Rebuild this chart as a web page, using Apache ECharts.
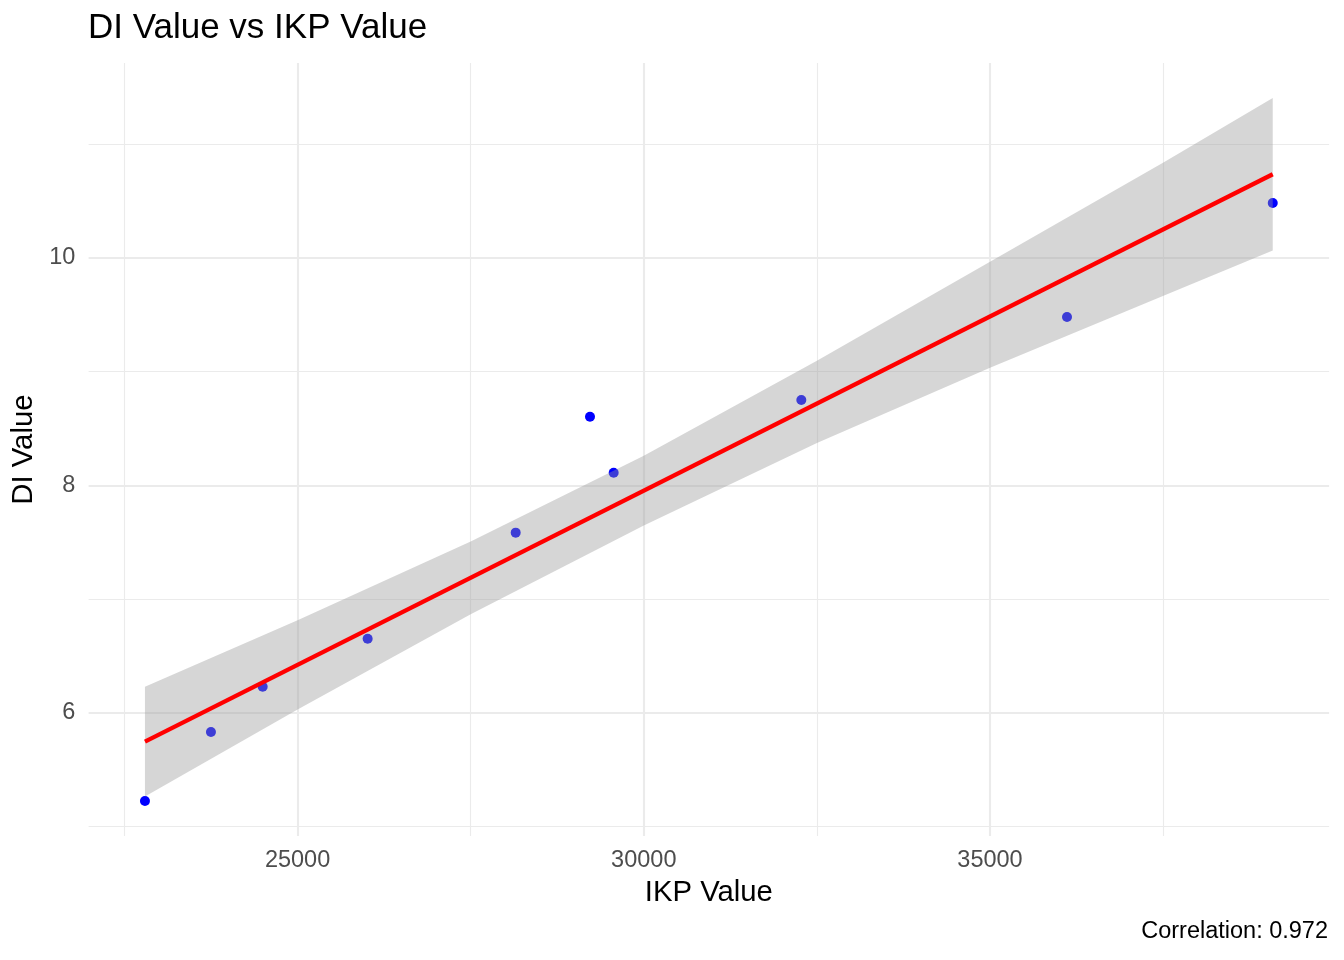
<!DOCTYPE html>
<html lang="en" style="height: 100%">
<head>
  <meta charset="utf-8">
</head>
<body style="height: 100%; margin: 0; background: #fff">
  <div id="container" style="height: 100%"></div>

  <script type="text/javascript" src="https://cdn.jsdelivr.net/npm/echarts@6.0.0/dist/echarts.min.js"></script>

  <script type="text/javascript">
    var ikp = [22796, 23749, 24496, 26012, 28150, 29223, 29565, 32275, 36112, 39083];
    var di = [5.226, 5.832, 6.230, 6.652, 7.584, 8.603, 8.111, 8.750, 9.480, 10.481];

    // fitted line (lm) end points
    var fitX = [22796, 39083];
    var fitY = [5.747, 10.734];

    // 95% confidence band, sampled along x
    var bandX = [22796, 25000, 27500, 30000, 32500, 35000, 37523, 39083];
    var bandLow = [5.265, 6.029, 6.867, 7.647, 8.371, 9.033, 9.671, 10.064];
    var bandHigh = [6.229, 6.815, 7.507, 8.259, 9.095, 9.965, 10.843, 11.404];

    // axis breaks
    var xMajor = [25000, 30000, 35000];
    var xMinor = [22500, 27500, 32500, 37500];
    var yMajor = [6, 8, 10];
    var yMinor = [5, 7, 9, 11];

    var xRange = [21982, 39897];
    var yRange = [4.917, 11.711];

    var font = 'Liberation Sans, Arial, sans-serif';
    var gridCol = '#EBEBEB';

    var dom = document.getElementById('container');
    var myChart = echarts.init(dom, null, {
      renderer: 'canvas',
      useDirtyRect: false
    });

    var option = {
      animation: false,
      backgroundColor: '#fff',
      title: {
        text: 'DI Value vs IKP Value',
        left: 88,
        top: 11,
        padding: 0,
        textStyle: {
          fontFamily: font,
          fontSize: 35,
          lineHeight: 35,
          fontWeight: 'normal',
          color: '#000'
        }
      },
      graphic: [{
        type: 'text',
        x: 1328,
        y: 932,
        style: {
          text: 'Correlation: 0.972',
          fontFamily: font,
          fontSize: 23.5,
          fill: '#000',
          align: 'right',
          verticalAlign: 'middle'
        }
      }],
      grid: {
        left: 88.6,
        right: 14.9,
        top: 63.1,
        bottom: 123.9,
        containLabel: false
      },
      xAxis: [{
        type: 'value',
        min: xRange[0],
        max: xRange[1],
        name: 'IKP Value',
        nameLocation: 'middle',
        nameGap: 42,
        nameTextStyle: { fontFamily: font, fontSize: 29.3, lineHeight: 29.3, color: '#000' },
        axisLine: { show: false },
        axisTick: { show: false, customValues: xMajor },
        axisLabel: {
          customValues: xMajor,
          formatter: function (v) { return String(v); },
          margin: 13,
          fontFamily: font,
          fontSize: 23.5,
          lineHeight: 23.5,
          color: '#4D4D4D'
        },
        splitLine: { show: true, lineStyle: { color: gridCol, width: 2.1 } }
      }, {
        type: 'value',
        min: xRange[0],
        max: xRange[1],
        axisLine: { show: false },
        axisTick: { show: false, customValues: xMinor },
        axisLabel: { show: false },
        splitLine: { show: true, lineStyle: { color: gridCol, width: 1.1 } }
      }],
      yAxis: [{
        type: 'value',
        min: yRange[0],
        max: yRange[1],
        name: 'DI Value',
        nameLocation: 'middle',
        nameGap: 44,
        nameTextStyle: { fontFamily: font, fontSize: 29.3, lineHeight: 29.3, color: '#000' },
        axisLine: { show: false },
        axisTick: { show: false, customValues: yMajor },
        axisLabel: {
          customValues: yMajor,
          margin: 13.2,
          fontFamily: font,
          fontSize: 23.5,
          color: '#4D4D4D'
        },
        splitLine: { show: true, lineStyle: { color: gridCol, width: 2.1 } }
      }, {
        type: 'value',
        min: yRange[0],
        max: yRange[1],
        axisLine: { show: false },
        axisTick: { show: false, customValues: yMinor },
        axisLabel: { show: false },
        splitLine: { show: true, lineStyle: { color: gridCol, width: 1.1 } }
      }],
      series: [{
        name: 'points',
        type: 'scatter',
        z: 2,
        symbol: 'circle',
        symbolSize: 10,
        itemStyle: { color: '#0000FF', opacity: 1 },
        data: ikp.map(function (x, i) { return [x, di[i]]; })
      }, {
        name: 'band',
        type: 'custom',
        z: 3,
        silent: true,
        data: bandX.map(function (x, i) { return [x, bandLow[i], bandHigh[i]]; }),
        encode: { x: 0, y: [1, 2] },
        renderItem: function (params, api) {
          if (params.dataIndex !== 0) return null;
          var pts = [];
          for (var i = 0; i < bandX.length; i++) {
            pts.push(api.coord([bandX[i], bandHigh[i]]));
          }
          for (var j = bandX.length - 1; j >= 0; j--) {
            pts.push(api.coord([bandX[j], bandLow[j]]));
          }
          return {
            type: 'polygon',
            shape: { points: pts },
            style: { fill: 'rgba(153,153,153,0.4)' }
          };
        }
      }, {
        name: 'fit',
        type: 'line',
        z: 4,
        symbol: 'none',
        lineStyle: { color: '#FF0000', width: 4.3 },
        data: fitX.map(function (x, i) { return [x, fitY[i]]; })
      }]
    };

    if (option && typeof option === 'object') {
      myChart.setOption(option);
    }

    window.addEventListener('resize', myChart.resize);
  </script>
</body>
</html>
